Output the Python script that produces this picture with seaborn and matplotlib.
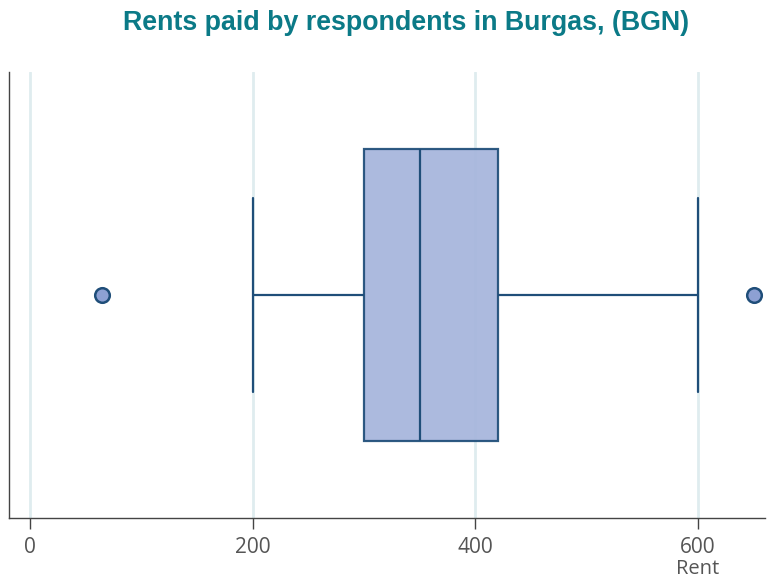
import matplotlib
matplotlib.use("Agg")
import matplotlib.pyplot as plt
import seaborn as sns
import pandas as pd

# Data (values chosen to reproduce the box statistics)
rent = [65, 200, 250, 300, 300, 320, 350, 350, 380, 420, 420, 500, 600, 650]
xticks = [0, 200, 400, 600]
title = "Rents paid by respondents in Burgas, (BGN)"
xlabel = "Rent"

sns.set_theme(style="white")
plt.rcParams['font.family'] = ['Open Sans', 'DejaVu Sans']

fig = plt.figure(figsize=(7.67, 5.81), dpi=100)
ax = fig.add_axes([9/767, 63/581, 756/767, 446/581])

df = pd.DataFrame({"Rent": rent})
edge = "#1f4e79"
sns.boxplot(
    data=df, x="Rent", ax=ax, width=0.655, whis=1.5,
    color="#a6b5dc", saturation=1, linecolor=edge, linewidth=1.6,
    fliersize=10.5, capwidths=0.435,
    flierprops=dict(marker='o', markerfacecolor="#8da0d3",
                    markeredgecolor=edge, markeredgewidth=1.8),
)
for p in ax.patches:
    p.set_alpha(0.93)

ax.set_xlim(-18.9, 660.2)
ax.set_xticks(xticks)
ax.set_yticks([])
ax.set_ylabel("")
ax.set_xlabel(xlabel, fontsize=14.5, color="#555555")
ax.xaxis.set_label_coords((697.5 - 9) / 756, -0.091)
ax.xaxis.label.set_ha("center")

ax.grid(axis='x', color='#dfecef', linewidth=2)
ax.set_axisbelow(True)
ax.tick_params(axis='x', bottom=True, length=8, width=1, color='#444444',
               labelsize=15, labelcolor='#555555', pad=6)
for s in ['top', 'right']:
    ax.spines[s].set_visible(False)
for s in ['left', 'bottom']:
    ax.spines[s].set_color('#444444')
    ax.spines[s].set_linewidth(1)

fig.text(406/767, 1 - 23/581, title, ha='center', va='center',
         fontsize=19.3, fontweight='bold', color='#0b7a87',
         family=['Liberation Sans', 'DejaVu Sans'])

fig.savefig("out.png", dpi=100)
